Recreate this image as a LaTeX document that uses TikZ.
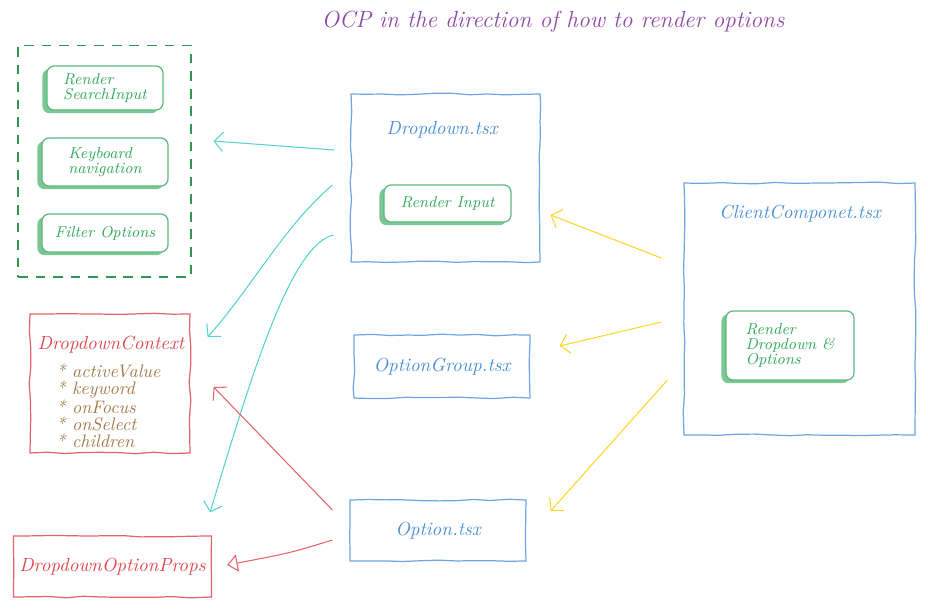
\documentclass[tikz,border=0pt]{standalone}
\usepackage{fontspec}
\usetikzlibrary{arrows.meta,calc,shadows,decorations.pathmorphing}
\definecolor{titlepurple}{RGB}{142,72,164}
\definecolor{tsxblue}{RGB}{74,144,212}
\definecolor{rendergreen}{RGB}{52,168,92}
\definecolor{ctxred}{RGB}{221,72,82}
\definecolor{itembrown}{RGB}{160,122,74}
\definecolor{linkcyan}{RGB}{88,210,204}
\definecolor{linkyellow}{RGB}{255,214,40}

\tikzset{
  hand/.style={font=\fontsize{9}{8.6}\selectfont\itshape},
  filetitle/.style={font=\fontsize{10.8}{12}\selectfont\itshape},
  sketch/.style={decorate, decoration={random steps, segment length=10pt, amplitude=0.5pt}},
  filebox/.style={draw=tsxblue!80, line width=0.7pt, sketch},
  typebox/.style={draw=ctxred!85, line width=0.7pt, sketch},
  renderbox/.style={draw=rendergreen!80, fill=white, line width=0.7pt, rounded corners=4pt,
    align=left, text=rendergreen,
    general shadow={shadow xshift=-2.6pt, shadow yshift=-1.8pt, fill=rendergreen!65}},
  link/.style={line width=0.6pt, -{Straight Barb[length=5pt,width=11pt]}},
}

\begin{document}
\begin{tikzpicture}[x=0.02cm,y=-0.02cm,hand]
  \useasboundingbox (0,0) rectangle (928,609);
  \pgfmathsetseed{7}

  % title
  \node[text=titlepurple, font=\fontsize{13.3}{15}\selectfont\itshape] (title) at (553,22) {OCP in the direction of how to render options};

  % draw helper group
  \node[draw=rendergreen!90!black, dash pattern=on 5.5pt off 4.5pt, line width=0.6pt,
    minimum width=3.46cm, minimum height=4.64cm] (helpers) at (104.5,161) {};
  \node[renderbox, minimum width=2.32cm, minimum height=0.88cm] (search) at (105,88) {Render\\SearchInput};
  \node[renderbox, minimum width=2.52cm, minimum height=0.96cm] (keys) at (105,162) {Keyboard\\navigation};
  \node[renderbox, minimum width=2.52cm, minimum height=0.76cm] (filter) at (105,233) {Filter Options};

  % draw Dropdown.tsx
  \node[filebox, minimum width=3.78cm, minimum height=3.36cm] (dropdown) at (445.5,178) {};
  \node[filetitle, text=tsxblue] (dropdown-title) at (442,130) {Dropdown.tsx};
  \node[renderbox, minimum width=2.54cm, minimum height=0.74cm] (input) at (447.5,203.5) {Render Input};

  % draw ClientComponet.tsx
  \node[filebox, minimum width=4.62cm, minimum height=5.04cm] (client) at (799.5,309) {};
  \node[filetitle, text=tsxblue] (client-title) at (800,214) {ClientComponet.tsx};
  \node[renderbox, minimum width=2.56cm, minimum height=1.38cm] (renderall) at (790,345.5) {Render\\Dropdown \&\\Options};

  % draw option files
  \node[filebox, filetitle, text=tsxblue, minimum width=3.52cm, minimum height=1.26cm] (group) at (442,366.5) {OptionGroup.tsx};
  \node[filebox, filetitle, text=tsxblue, minimum width=3.52cm, minimum height=1.22cm] (option) at (438,530.5) {Option.tsx};

  % draw types
  \node[typebox, minimum width=3.2cm, minimum height=2.78cm] (context) at (110,383.5) {};
  \node[filetitle, text=ctxred] (context-title) at (111,345) {DropdownContext};
  \node[text=itembrown, anchor=north west, align=left, inner sep=0pt,
    font=\fontsize{10.3}{9.5}\selectfont\itshape] (context-items) at (56,364)
    {* activeValue\\* keyword\\* onFocus\\* onSelect\\* children};
  \node[typebox, filetitle, text=ctxred, minimum width=3.9cm, minimum height=1.22cm] (props) at (112.5,566.5) {DropdownOptionProps};

  % draw links
  \draw[link, linkcyan] ($(dropdown.west)+(-16,-28)$) -- ($(helpers.east)+(22,-20)$);
  \draw[link, linkcyan] ($(dropdown.west)+(-18,7)$) .. controls (285,225) and (250,290) .. ($(context.east)+(17,-46.5)$);
  \draw[link, linkcyan] ($(dropdown.west)+(-17,57)$) .. controls (290,245) and (250,380) .. ($(props.north east)+(-2,-23)$);
  \draw[link, ctxred!85] ($(option.west)+(-17,-20.5)$) -- ($(context.east)+(23,3.5)$);
  \draw[line width=0.6pt, ctxred!85, -{Triangle[open,length=6pt,width=10pt]}]
    ($(option.west)+(-17,9.5)$) .. controls (290,553) .. ($(props.east)+(15,-1.5)$);
  \draw[link, linkyellow] ($(client.west)+(-22,-51)$) -- ($(dropdown.east)+(10,37)$);
  \draw[link, linkyellow] ($(client.west)+(-22,13)$) -- ($(group.east)+(29,-20.5)$);
  \draw[link, linkyellow] ($(client.west)+(-16,71)$) -- ($(option.east)+(24,-19.5)$);
\end{tikzpicture}
\end{document}
